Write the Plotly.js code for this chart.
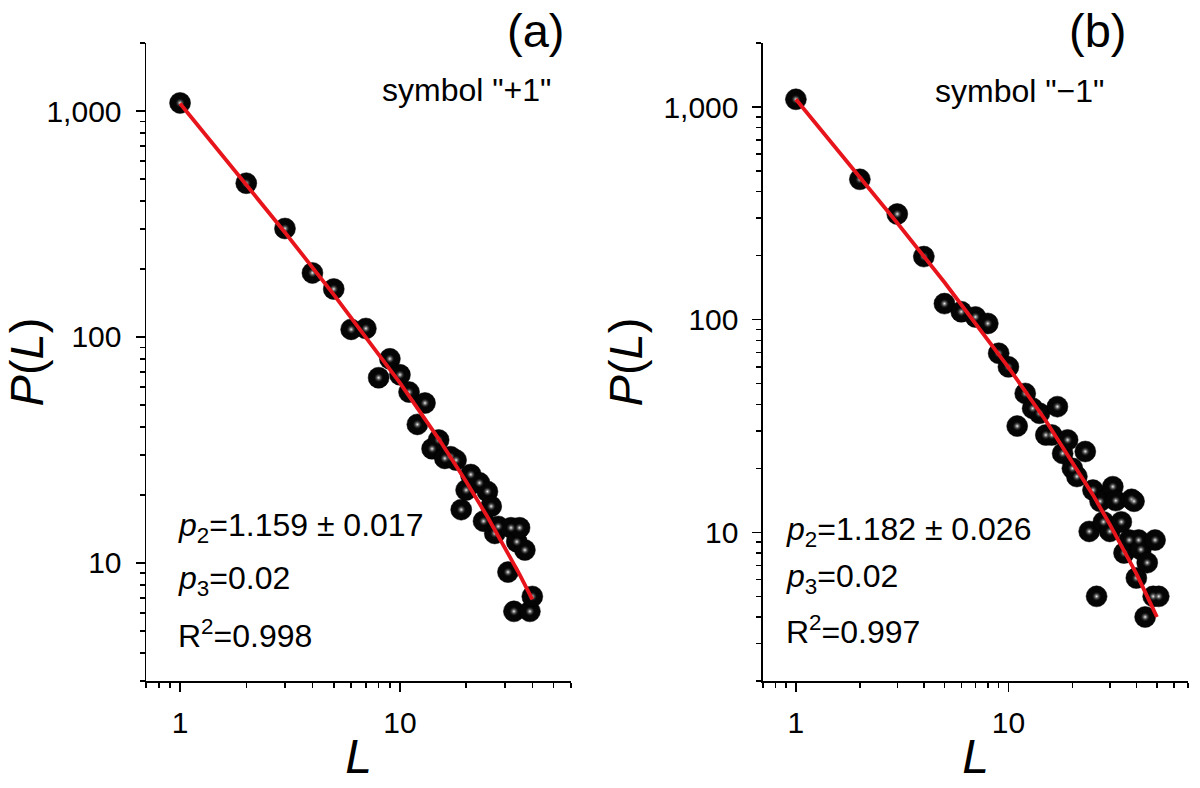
<!DOCTYPE html>
<html>
<head>
<meta charset="utf-8">
<script src="https://cdn.plot.ly/plotly-3.0.1.min.js"></script>
<style>
    html, body { margin: 0; padding: 0; background: white; }
    #chart { width: 1200px; height: 788px; }
</style>
</head>
<body>
<div id="chart"></div>
<script>
// panel (a): symbol "+1"
const lenA = [1, 2, 3, 4, 5, 6, 7, 8, 9, 10, 11, 12, 13, 14, 15, 16, 17, 18, 19, 20, 21, 23, 24, 25, 26, 27, 28, 31, 32, 33, 34, 35, 37, 39, 40];
const probA = [1086, 479, 302, 192, 163, 108, 109, 66, 80, 68, 57, 41, 51, 32, 35, 29, 29.5, 28.5, 17.2, 21, 24.6, 22.6, 15.3, 20.7, 17.8, 13.5, 14.5, 9.1, 14.3, 6.1, 12.4, 14.3, 11.4, 6.1, 7.1];
const fitLenA = [1, 2, 3, 5, 7, 10, 15, 20, 25, 30, 35, 40];
const fitProbA = [1080, 474, 290, 154, 100, 62.6, 35.4, 22.9, 16.0, 11.7, 8.9, 6.9];

// panel (b): symbol "-1"
const lenB = [1, 2, 3, 4, 5, 6, 7, 8, 9, 10, 11, 12, 13, 14, 15, 16, 17, 18, 19, 20, 21, 23, 24, 25, 26, 27, 28, 30, 31, 32, 34, 35, 37, 38, 39, 40, 41, 42, 44, 45, 48, 49, 51];
const probB = [1087, 457, 314, 198, 119, 109, 103, 96, 69.5, 60, 31.6, 45, 38.3, 36.3, 28.7, 28.7, 39, 23.5, 27.2, 20, 18.3, 24, 10.1, 15.8, 5, 14, 11.2, 10.1, 16.4, 14.1, 11.2, 8, 9.2, 14.3, 14, 6.1, 9.2, 8.3, 4.0, 7.2, 5, 9.2, 5];
const fitLenB = [1, 2, 3, 5, 7, 10, 15, 20, 25, 30, 35, 40, 45, 50];
const fitProbB = [1087, 470, 285, 150, 96.7, 59.7, 33.5, 21.5, 15.0, 10.9, 8.2, 6.4, 5.0, 4.0];

const xTickVals = [1, 10];
const xTickText = ['1', '10'];
const yTickVals = [10, 100, 1000];
const yTickText = ['10', '100', '1,000'];
const xMinorA = [0.7, 0.8, 0.9, 2, 3, 4, 5, 6, 7, 8, 9, 20, 30, 40, 50, 60];
const xMinorB = [0.7, 0.8, 0.9, 2, 3, 4, 5, 6, 7, 8, 9, 20, 30, 40, 50, 60, 70];
const yMinorA = [3, 4, 5, 6, 7, 8, 9, 20, 30, 40, 50, 60, 70, 80, 90, 200, 300, 400, 500, 600, 700, 800, 900, 2000];
const yMinorB = [2, 3, 4, 5, 6, 7, 8, 9, 20, 30, 40, 50, 60, 70, 80, 90, 200, 300, 400, 500, 600, 700, 800, 900, 2000];

const FONT = 'Arial, "Liberation Sans", sans-serif';

function balls(x, y, xa, ya) {
    return [
        {
            x: x, y: y, xaxis: xa, yaxis: ya,
            type: 'scatter', mode: 'markers',
            marker: { size: 21, color: '#050505', line: { color: '#000', width: 0.5 } },
            hoverinfo: 'x+y'
        },
        {
            // little shine on each ball
            x: x, y: y, xaxis: xa, yaxis: ya,
            type: 'scatter', mode: 'markers',
            marker: { size: 10, color: 'rgba(0,0,0,0)', gradient: { type: 'radial', color: '#f4f4f4' }, line: { width: 0 } },
            hoverinfo: 'skip'
        }
    ];
}

function fitLine(x, y, xa, ya) {
    return {
        x: x, y: y, xaxis: xa, yaxis: ya,
        type: 'scatter', mode: 'lines',
        line: { color: '#e8141b', width: 3.8 },
        hoverinfo: 'skip'
    };
}

const data = [
    ...balls(lenA, probA, 'x', 'y'),
    fitLine(fitLenA, fitProbA, 'x', 'y'),
    ...balls(lenB, probB, 'x2', 'y2'),
    fitLine(fitLenB, fitProbB, 'x2', 'y2')
];

function xAxis(domain, range, minorVals, anchor) {
    return {
        type: 'log',
        domain: domain,
        range: range,
        anchor: anchor,
        showgrid: false,
        zeroline: false,
        showline: true,
        linecolor: '#000',
        linewidth: 1.5,
        ticks: 'outside',
        ticklen: 9,
        tickwidth: 1.5,
        tickcolor: '#000',
        tickvals: xTickVals,
        ticktext: xTickText,
        ticklabelstandoff: 5,
        tickfont: { family: FONT, size: 30, color: '#000' },
        minor: { tickvals: minorVals, ticks: 'outside', ticklen: 5, tickwidth: 1.5, tickcolor: '#000', showgrid: false },
        title: { text: '<i>L</i>', font: { family: FONT, size: 48, color: '#000' }, standoff: 2 }
    };
}

function yAxis(range, minorVals, anchor) {
    return {
        type: 'log',
        domain: [0, 1],
        range: range,
        anchor: anchor,
        showgrid: false,
        zeroline: false,
        showline: true,
        linecolor: '#000',
        linewidth: 1.5,
        ticks: 'outside',
        ticklen: 9,
        tickwidth: 1.5,
        tickcolor: '#000',
        tickvals: yTickVals,
        ticktext: yTickText,
        ticklabelstandoff: 8,
        tickfont: { family: FONT, size: 30, color: '#000' },
        minor: { tickvals: minorVals, ticks: 'outside', ticklen: 5, tickwidth: 1.5, tickcolor: '#000', showgrid: false },
        title: { text: '<i>P</i>(<i>L</i>)', font: { family: FONT, size: 47, color: '#000' }, standoff: 6 }
    };
}

function note(text, x, y, size, anchor) {
    return {
        text: text, x: x, y: y, xref: 'paper', yref: 'paper',
        xanchor: anchor || 'left', yanchor: 'middle',
        showarrow: false,
        font: { family: FONT, size: size, color: '#000' }
    };
}

const layout = {
    width: 1200,
    height: 788,
    plot_bgcolor: 'white',
    paper_bgcolor: 'white',
    showlegend: false,
    margin: { l: 146, r: 12, t: 43, b: 107, pad: 0 },
    xaxis: xAxis([0, 0.4079], [Math.log10(0.7), Math.log10(60)], xMinorA, 'y'),
    yaxis: yAxis([Math.log10(3), Math.log10(2000)], yMinorA, 'x'),
    xaxis2: xAxis([0.5921, 1], [Math.log10(0.7), Math.log10(70)], xMinorB, 'y2'),
    yaxis2: yAxis([Math.log10(2), Math.log10(2000)], yMinorB, 'x2'),
    annotations: [
        note('(a)', 0.3734, 1.019, 47, 'center'),
        note('symbol "+1"', 0.3075, 0.926, 32, 'center'),
        note('<i>p</i><sub>2</sub>=1.159 \u00b1 0.017', 0.0285, 0.240, 32),
        note('<i>p</i><sub>3</sub>=0.02', 0.0285, 0.157, 32),
        note('R<sup>2</sup>=0.998', 0.0285, 0.073, 32),
        note('(b)', 0.9127, 1.019, 47, 'center'),
        note('symbol "\u22121"', 0.838, 0.924, 32, 'center'),
        note('<i>p</i><sub>2</sub>=1.182 \u00b1 0.026', 0.612, 0.234, 32),
        note('<i>p</i><sub>3</sub>=0.02', 0.612, 0.161, 32),
        note('R<sup>2</sup>=0.997', 0.612, 0.080, 32)
    ]
};

Plotly.newPlot('chart', data, layout, { displayModeBar: false, staticPlot: true });
</script>
</body>
</html>
